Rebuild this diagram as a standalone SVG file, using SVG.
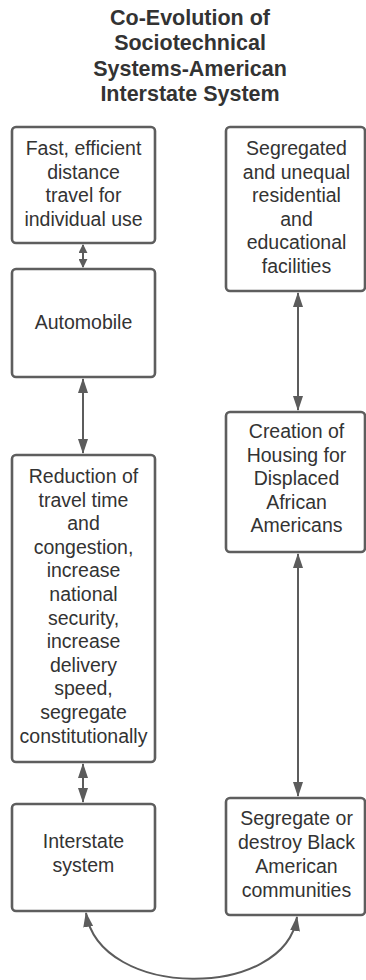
<svg xmlns="http://www.w3.org/2000/svg" width="366" height="980" viewBox="0 0 366 980">
  <defs>
    <style>
      .box { fill: #ffffff; stroke: #5e5e5e; stroke-width: 2.6; }
      .lbl { font-family: "Liberation Sans", Arial, sans-serif; font-size: 19.5px; fill: #333333; text-anchor: middle; }
      .title { font-family: "Liberation Sans", Arial, sans-serif; font-size: 21.5px; font-weight: bold; fill: #333333; text-anchor: middle; }
      .link { fill: none; stroke: #5c5c5c; stroke-width: 2; }
    </style>
    <marker id="arrow" viewBox="0 0 15 10" refX="14" refY="5" markerWidth="7.5" markerHeight="5.2" orient="auto-start-reverse" markerUnits="strokeWidth">
      <path d="M0,0 L15,5 L0,10 z" fill="#5c5c5c"/>
    </marker>
    <marker id="arrowSmall" viewBox="0 0 10 10" refX="9" refY="5" markerWidth="4.5" markerHeight="4.5" orient="auto-start-reverse" markerUnits="strokeWidth">
      <path d="M0,0 L10,5 L0,10 z" fill="#5c5c5c"/>
    </marker>
  </defs>
  <rect width="366" height="980" fill="#ffffff"/>

  <g id="title">
    <text class="title" x="190" y="25">Co-Evolution of</text>
    <text class="title" x="190" y="50">Sociotechnical</text>
    <text class="title" x="190" y="76">Systems-American</text>
    <text class="title" x="190" y="101">Interstate System</text>
  </g>

  <g id="connectors">
    <line class="link" x1="83" y1="245" x2="83" y2="267" marker-start="url(#arrowSmall)" marker-end="url(#arrowSmall)"/>
    <line class="link" x1="83" y1="379" x2="83" y2="453" marker-start="url(#arrow)" marker-end="url(#arrow)"/>
    <line class="link" x1="83" y1="764" x2="83" y2="802" marker-start="url(#arrow)" marker-end="url(#arrow)"/>
    <line class="link" x1="298" y1="293" x2="298" y2="410" marker-start="url(#arrow)" marker-end="url(#arrow)"/>
    <line class="link" x1="298" y1="554" x2="298" y2="796" marker-start="url(#arrow)" marker-end="url(#arrow)"/>
    <path class="link" d="M86,913 C100,1000 285,1000 297,917" marker-start="url(#arrow)" marker-end="url(#arrow)"/>
  </g>

  <g id="node-travel">
    <rect class="box" x="12" y="127" width="143" height="116" rx="4"/>
    <text class="lbl" x="83.5" y="155">Fast, efficient</text>
    <text class="lbl" x="83.5" y="178.5">distance</text>
    <text class="lbl" x="83.5" y="202">travel for</text>
    <text class="lbl" x="83.5" y="225.5">individual use</text>
  </g>

  <g id="node-automobile">
    <rect class="box" x="12" y="269" width="143" height="108" rx="4"/>
    <text class="lbl" x="83.5" y="329">Automobile</text>
  </g>

  <g id="node-reduction">
    <rect class="box" x="12" y="455" width="143" height="307" rx="4"/>
    <text class="lbl" x="83.5" y="483">Reduction of</text>
    <text class="lbl" x="83.5" y="506.6">travel time</text>
    <text class="lbl" x="83.5" y="530.2">and</text>
    <text class="lbl" x="83.5" y="553.8">congestion,</text>
    <text class="lbl" x="83.5" y="577.4">increase</text>
    <text class="lbl" x="83.5" y="601">national</text>
    <text class="lbl" x="83.5" y="624.6">security,</text>
    <text class="lbl" x="83.5" y="648.2">increase</text>
    <text class="lbl" x="83.5" y="671.8">delivery</text>
    <text class="lbl" x="83.5" y="695.4">speed,</text>
    <text class="lbl" x="83.5" y="719">segregate</text>
    <text class="lbl" x="83.5" y="742.6">constitutionally</text>
  </g>

  <g id="node-interstate">
    <rect class="box" x="12" y="804" width="143" height="107" rx="4"/>
    <text class="lbl" x="83.5" y="848">Interstate</text>
    <text class="lbl" x="83.5" y="872">system</text>
  </g>

  <g id="node-segregated-facilities">
    <rect class="box" x="226" y="127" width="139" height="164" rx="4"/>
    <text class="lbl" x="296.5" y="155">Segregated</text>
    <text class="lbl" x="296.5" y="178.5">and unequal</text>
    <text class="lbl" x="296.5" y="202">residential</text>
    <text class="lbl" x="296.5" y="225.5">and</text>
    <text class="lbl" x="296.5" y="249">educational</text>
    <text class="lbl" x="296.5" y="272.5">facilities</text>
  </g>

  <g id="node-housing">
    <rect class="box" x="226" y="412" width="139" height="140" rx="4"/>
    <text class="lbl" x="296.5" y="438">Creation of</text>
    <text class="lbl" x="296.5" y="461.5">Housing for</text>
    <text class="lbl" x="296.5" y="485">Displaced</text>
    <text class="lbl" x="296.5" y="508.5">African</text>
    <text class="lbl" x="296.5" y="532">Americans</text>
  </g>

  <g id="node-communities">
    <rect class="box" x="226" y="798" width="139" height="117" rx="4"/>
    <text class="lbl" x="296.5" y="825">Segregate or</text>
    <text class="lbl" x="296.5" y="849">destroy Black</text>
    <text class="lbl" x="296.5" y="873">American</text>
    <text class="lbl" x="296.5" y="897">communities</text>
  </g>
</svg>
